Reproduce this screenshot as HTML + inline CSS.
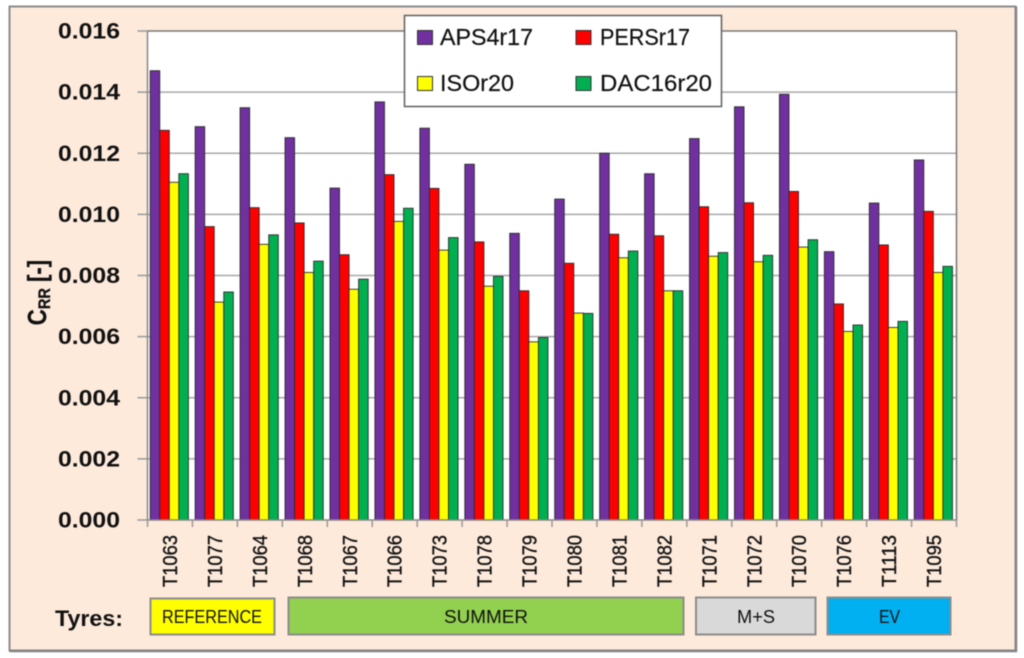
<!DOCTYPE html>
<html>
<head>
<meta charset="utf-8">
<title>CRR chart</title>
<style>
html,body{margin:0;padding:0;background:#fff;width:1024px;height:658px;overflow:hidden}
svg{display:block;font-family:"Liberation Sans",sans-serif;filter:blur(0.45px)}
</style>
</head>
<body>
<svg id="chart" xmlns="http://www.w3.org/2000/svg" width="1024" height="658" viewBox="0 0 1024 658">
  <rect x="9.5" y="6.5" width="1006" height="644" fill="#fdeadb" stroke="#8c8c8c" stroke-width="2"/>
  <path d="M9.5 651H1016V6.5" fill="none" stroke="#858585" stroke-width="2.5"/>
  <rect x="147.5" y="31" width="809" height="489" fill="#fff"/>
  <g id="grid"></g>
  <g id="bars"></g>
  <g id="axes"></g>
  <text transform="translate(46,292.5) rotate(-90) scale(0.855,1)" text-anchor="middle" font-size="26" font-weight="bold" fill="#111" stroke="#111" stroke-width="0.3">C<tspan font-size="17" dy="4">RR</tspan><tspan dy="-4"> [-]</tspan></text>

  <g>
    <rect x="404.5" y="15.5" width="317" height="91" fill="#fff" stroke="#5f5f5f" stroke-width="1.5"/>
    <rect x="417.5" y="30.5" width="15" height="14" fill="#7030a0" stroke="#333"/>
    <text x="440" y="45" font-size="23" fill="#111" stroke="#111" stroke-width="0.2" textLength="93" lengthAdjust="spacingAndGlyphs">APS4r17</text>
    <rect x="576" y="30.5" width="15" height="14" fill="#ff0000" stroke="#333"/>
    <text x="600" y="45" font-size="23" fill="#111" stroke="#111" stroke-width="0.2" textLength="90" lengthAdjust="spacingAndGlyphs">PERSr17</text>
    <rect x="417.5" y="76.5" width="15" height="14" fill="#ffff00" stroke="#333"/>
    <text x="440" y="91" font-size="23" fill="#111" stroke="#111" stroke-width="0.2" textLength="74" lengthAdjust="spacingAndGlyphs">ISOr20</text>
    <rect x="576" y="76.5" width="15" height="14" fill="#00b050" stroke="#333"/>
    <text x="600" y="91" font-size="23" fill="#111" stroke="#111" stroke-width="0.2" textLength="112" lengthAdjust="spacingAndGlyphs">DAC16r20</text>
  </g>

  <text x="55" y="626" font-size="22" font-weight="bold" fill="#111" textLength="68" lengthAdjust="spacingAndGlyphs">Tyres:</text>
  <g>
    <rect x="150.5" y="598.5" width="124" height="36" fill="#ffff00" stroke="#8c8c8c" stroke-width="2"/>
    <text x="162" y="623" font-size="18" fill="#111" textLength="100" lengthAdjust="spacingAndGlyphs">REFERENCE</text>
  </g>
  <g>
    <rect x="288.5" y="597.5" width="395" height="37" fill="#92d050" stroke="#8c8c8c" stroke-width="2"/>
    <text x="444" y="623" font-size="18" fill="#111" textLength="84" lengthAdjust="spacingAndGlyphs">SUMMER</text>
  </g>
  <g>
    <rect x="696" y="597.5" width="119.5" height="37" fill="#d9d9d9" stroke="#8c8c8c" stroke-width="2"/>
    <text x="737" y="623" font-size="18" fill="#111" textLength="38" lengthAdjust="spacingAndGlyphs">M+S</text>
  </g>
  <g>
    <rect x="827.5" y="597.5" width="123" height="37" fill="#00b0f0" stroke="#8c8c8c" stroke-width="2"/>
    <text x="879" y="623" font-size="18" fill="#111" textLength="21" lengthAdjust="spacingAndGlyphs">EV</text>
  </g>
</svg>
<script>
const categories = ["T1063","T1077","T1064","T1068","T1067","T1066","T1073","T1078","T1079","T1080","T1081","T1082","T1071","T1072","T1070","T1076","T1113","T1095"];
const aps4r17 = [0.0147,0.01287,0.01349,0.01251,0.01086,0.01368,0.01282,0.01164,0.00938,0.0105,0.012,0.01133,0.01248,0.01352,0.01393,0.00878,0.01037,0.01178];
const persr17 = [0.01275,0.0096,0.01022,0.00972,0.00868,0.0113,0.01085,0.0091,0.0075,0.0084,0.00935,0.0093,0.01025,0.01038,0.01075,0.00707,0.009,0.0101];
const isor20 = [0.01105,0.00713,0.00902,0.0081,0.00755,0.00977,0.00883,0.00765,0.00583,0.00677,0.00858,0.0075,0.00863,0.00845,0.00893,0.00617,0.0063,0.0081];
const dac16r20 = [0.01133,0.00746,0.00933,0.00847,0.00788,0.0102,0.00924,0.00797,0.00597,0.00676,0.0088,0.0075,0.00875,0.00866,0.00917,0.00638,0.0065,0.0083];
const seriesNames = ["aps4r17","persr17","isor20","dac16r20"];
const seriesColors = ["#7030a0","#ff0000","#ffff00","#00b050"];
const yTicks = [0,0.002,0.004,0.006,0.008,0.01,0.012,0.014,0.016];

const NS = "http://www.w3.org/2000/svg";
const plotLeft = 147.5, plotRight = 956.5, plotTop = 31, plotBottom = 520, yMax = 0.016;
const bandWidth = (plotRight - plotLeft) / categories.length;
const barWidth = bandWidth * 0.85 / 4;
function yScale(v){ return plotBottom - (v / yMax) * (plotBottom - plotTop); }
function xBand(i){ return plotLeft + i * bandWidth; }
function make(tag, attrs, parent){
  const el = document.createElementNS(NS, tag);
  for (const k in attrs) el.setAttribute(k, attrs[k]);
  parent.appendChild(el);
  return el;
}
const grid = document.getElementById("grid");
const axes = document.getElementById("axes");
const bars = document.getElementById("bars");

yTicks.forEach(function(t){
  const y = yScale(t);
  if (t > 0) {
    const g = make("line", {x1:plotLeft, x2:plotRight, y1:y, y2:y, stroke: t === yMax ? "#777" : "#a8a8a8", "stroke-width":1.5}, grid);
    
    
  }
  const tick = make("line", {x1:137.5, x2:plotLeft, y1:y, y2:y, stroke:"#999", "stroke-width":1.5}, axes);
  
  
  const label = make("text", {x:58, y:y+7.5, "font-size":22.5, "font-weight":"bold", fill:"#111", textLength:62, lengthAdjust:"spacingAndGlyphs"}, axes);
  
  
  label.textContent = t.toFixed(3);
});

[aps4r17, persr17, isor20, dac16r20].forEach(function(values, s){
  values.forEach(function(v, i){
    const x = xBand(i) + bandWidth * 0.06 + s * barWidth;
    const r = make("rect", {x:x, y:yScale(v), width:barWidth, height:plotBottom - yScale(v), fill:seriesColors[s], stroke:"#2b2b2b", "stroke-width":0.9}, bars);
    
    
  });
});

const axisY = make("line", {x1:plotLeft, x2:plotLeft, y1:plotTop, y2:plotBottom, stroke:"#888", "stroke-width":1.5}, axes);


const axisRight = make("line", {x1:plotRight, x2:plotRight, y1:plotTop, y2:plotBottom, stroke:"#777", "stroke-width":1.5}, axes);


const axisX = make("line", {x1:plotLeft, x2:plotRight, y1:plotBottom, y2:plotBottom, stroke:"#888", "stroke-width":1.5}, axes);



for (let i = 0; i <= categories.length; i++) {
  const tick = make("line", {x1:xBand(i), x2:xBand(i), y1:plotBottom, y2:527, stroke:"#999", "stroke-width":1.5}, axes);
  
  
}
categories.forEach(function(c, i){
  const cx = xBand(i) + bandWidth / 2;
  const label = make("text", {transform:"translate(" + (cx + 7) + ",587) rotate(-90)", "font-size":20, fill:"#111", stroke:"#111", "stroke-width":0.35, textLength:52, lengthAdjust:"spacingAndGlyphs"}, axes);
  
  
  label.textContent = c;
});
</script>
</body>
</html>
